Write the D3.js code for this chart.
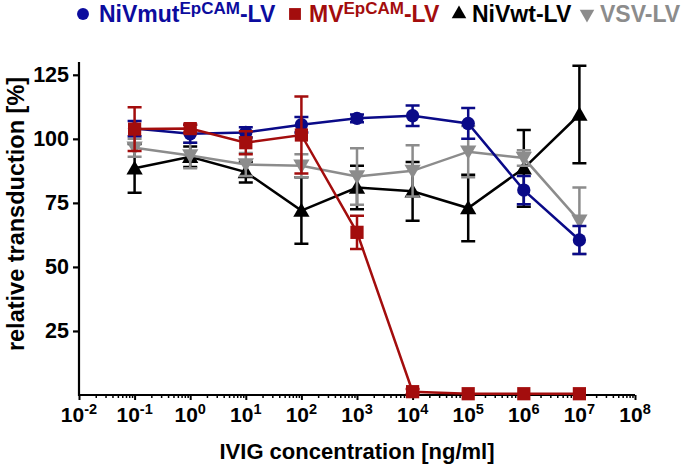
<!DOCTYPE html>
<html><head><meta charset="utf-8">
<script src="https://cdn.jsdelivr.net/npm/d3@7"></script>
<style>body{margin:0;background:#fff}svg{display:block;font-family:"Liberation Sans",Arial,sans-serif;font-weight:bold}</style>
</head><body><svg id="c" width="686" height="465"></svg>
<script>
const concentrations = [1e-1, 1e0, 1e1, 1e2, 1e3, 1e4, 1e5, 1e6, 1e7];
const xTickExponents = [-2, -1, 0, 1, 2, 3, 4, 5, 6, 7, 8];
const yTickValues = [25, 50, 75, 100, 125];

const nivmutMean = [104, 102, 102.5, 105.5, 108, 109, 106, 80, 60.5];
const nivmutErr  = [3, 3.5, 2, 3, 1.5, 4, 6, 5.5, 5.5];
const mvMean = [103.8, 104, 98.5, 101.5, 63.5, 1.3, 0.5, 0.5, 0.5];
const mvErr  = [8.5, 1.5, 4.5, 15, 6.5, 1, 0.3, 0.3, 0.3];
const nivwtMean = [88.5, 93, 87, 72, 81, 79.5, 73, 88.5, 109.5];
const nivwtErr  = [9.5, 4, 4, 13, 8.5, 11.5, 13, 15, 19];
const vsvMean = [96.5, 93.5, 90, 89.5, 85.3, 87.5, 95, 92.5, 68];
const vsvErr  = [3.5, 5, 4.5, 4.5, 11, 10, 10, 3, 13];

const series = [
  {name:"NiVwt-LV", mean:nivwtMean, err:nivwtErr, color:"#000000", sym:"up"},
  {name:"VSV-LV", mean:vsvMean, err:vsvErr, color:"#8c8c8c", sym:"down"},
  {name:"NiVmut", mean:nivmutMean, err:nivmutErr, color:"#0a0a88", sym:"circle"},
  {name:"MV", mean:mvMean, err:mvErr, color:"#a30d0d", sym:"square"}
];

const svg = d3.select("#c");
const x = d3.scaleLog().domain([1e-2, 1e8]).range([79, 635]);
const y = d3.scaleLinear().domain([0, 130]).range([395, 62]);

function symPath(kind, big) {
  const k = big ? 1 : 0.8;
  if (kind === "circle") return d3.symbol(d3.symbolCircle, 140 * k)();
  if (kind === "square") return d3.symbol(d3.symbolSquare, 175 * k)();
  return d3.symbol(d3.symbolTriangle, 115 * k)();
}
function symTransform(kind, px, py) {
  return `translate(${px},${py})` + (kind === "down" ? " rotate(180)" : "");
}

// Y axis
const yAxis = svg.append("g").attr("transform", "translate(79,0)")
  .call(d3.axisLeft(y).tickValues(yTickValues).tickSize(6).tickSizeOuter(0).tickPadding(4));
yAxis.select(".domain").attr("stroke-width", 2.2).attr("d", `M0,${y.range()[1]}V${y.range()[0] + 1}`);
yAxis.selectAll(".tick line").attr("stroke-width", 2.2);
yAxis.selectAll(".tick text").attr("font-size", 21.5).attr("font-weight", "bold").attr("fill", "#000")
  .attr("font-family", "Liberation Sans, Arial, sans-serif");

// X axis minor ticks
const minors = [];
for (let e = -2; e < 8; e++) for (let m = 2; m <= 9; m++) minors.push(m * Math.pow(10, e));
const xMinor = svg.append("g").attr("transform", "translate(0,395)")
  .call(d3.axisBottom(x).tickValues(minors).tickSize(3).tickSizeOuter(0).tickFormat(""));
xMinor.select(".domain").remove();
xMinor.selectAll(".tick line").attr("stroke-width", 1.5);

const xAxis = svg.append("g").attr("transform", "translate(0,395)")
  .call(d3.axisBottom(x).tickValues(xTickExponents.map(e => Math.pow(10, e))).tickSize(5).tickSizeOuter(0).tickFormat(""));
xAxis.select(".domain").attr("stroke-width", 2.2).attr("d", `M${x.range()[0] - 1},0H${x.range()[1]}`);
xAxis.selectAll(".tick line").attr("stroke-width", 2);

// x tick labels with superscripts
const xl = svg.append("g");
xTickExponents.forEach(e => {
  const t = xl.append("text").attr("x", x(Math.pow(10, e))).attr("y", 422)
    .attr("text-anchor", "middle").attr("font-size", 21).attr("fill", "#000");
  t.append("tspan").text("10");
  t.append("tspan").attr("font-size", 14.5).attr("dy", -8).text(String(e));
});

// axis titles
svg.append("text").attr("x", 357).attr("y", 459).attr("text-anchor", "middle")
  .attr("font-size", 22).attr("fill", "#000").text("IVIG concentration [ng/ml]");
svg.append("text").attr("transform", "translate(24,214) rotate(-90)").attr("text-anchor", "middle")
  .attr("font-size", 23.5).attr("fill", "#000").text("relative transduction [%]");

// series
const line = d3.line().x(d => x(d[0])).y(d => y(d[1]));
series.forEach(s => {
  const g = svg.append("g");
  const pts = concentrations.map((c, i) => [c, s.mean[i], s.err[i]]);
  const eb = g.append("g").attr("stroke", s.color).attr("stroke-width", 2.5).attr("fill", "none");
  pts.forEach(p => {
    const px = x(p[0]), top = y(p[1] + p[2]), bot = y(p[1] - p[2]);
    if (p[2] < 0.5) return;
    eb.append("path").attr("d", `M${px},${top}V${bot}M${px - 7},${top}H${px + 7}M${px - 7},${bot}H${px + 7}`);
  });
  g.append("path").datum(pts).attr("d", line).attr("fill", "none").attr("stroke", s.color).attr("stroke-width", 2.5);
  g.selectAll(".m").data(pts).join("path").attr("class", "m")
    .attr("d", symPath(s.sym, true))
    .attr("transform", d => symTransform(s.sym, x(d[0]), y(d[1]) + (s.sym === "up" ? 1.5 : s.sym === "down" ? -1.5 : 0)))
    .attr("fill", s.color);
});

// legend
const legendItems = [
  {sym:"circle", color:"#0c0c9e", mx:83, tx:99, parts:[["NiVmut",0],["EpCAM",1],["-LV",0]]},
  {sym:"square", color:"#a30d0d", mx:295, tx:309, parts:[["MV",0],["EpCAM",1],["-LV",0]]},
  {sym:"up", color:"#000000", mx:459, tx:472, parts:[["NiVwt-LV",0]]},
  {sym:"down", color:"#8c8c8c", mx:587, tx:600, parts:[["VSV-LV",0]]}
];
const lg = svg.append("g");
legendItems.forEach(it => {
  lg.append("path").attr("d", symPath(it.sym, false))
    .attr("transform", symTransform(it.sym, it.mx, 14)).attr("fill", it.color);
  const t = lg.append("text").attr("x", it.tx).attr("y", 22).attr("font-size", 23).attr("fill", it.color);
  let sup = false;
  it.parts.forEach(p => {
    const ts = t.append("tspan").text(p[0]);
    if (p[1] && !sup) { ts.attr("font-size", 17).attr("dy", -8); sup = true; }
    else if (!p[1] && sup) { ts.attr("dy", 8); sup = false; }
  });
});
</script></body></html>
